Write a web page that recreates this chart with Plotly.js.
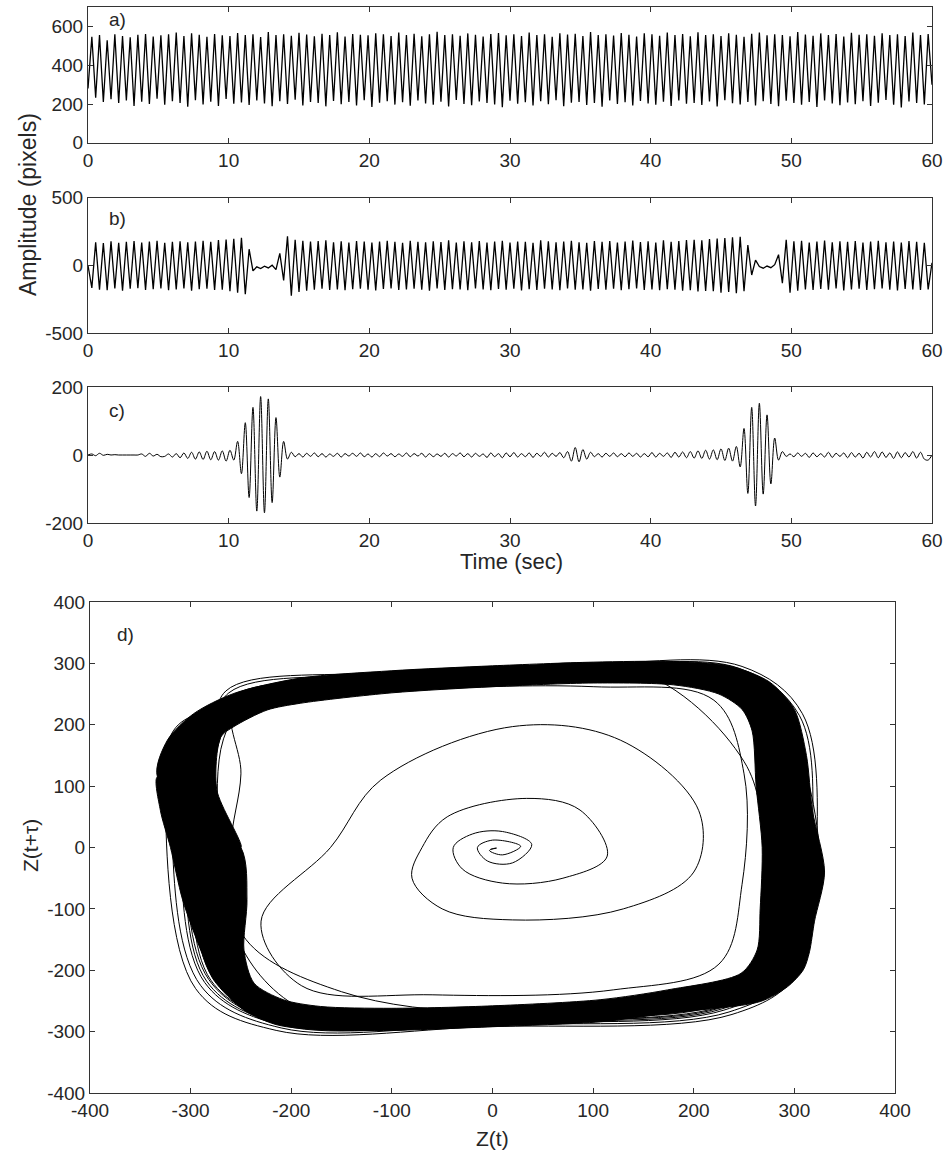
<!DOCTYPE html>
<html>
<head>
<meta charset="utf-8">
<script src="https://cdn.plot.ly/plotly-3.0.1.min.js"></script>
<style>html,body{margin:0;padding:0;background:#fff;}#chart{width:949px;height:1153px;}</style>
</head>
<body>
<div id="chart"></div>
<script>
// ---------- DATA ----------
// Recording duration (s); samples are successive extrema, evenly spaced over it
const recordSeconds = 60;

// a) raw amplitude (pixels), successive extrema
const ampA = [
280,548,232,556,210,530,225,560,205,552,218,545,190,558,212,562,200,549,228,555,
196,560,215,570,205,552,186,566,220,558,198,548,212,562,190,555,226,551,202,567,
208,557,195,561,218,546,203,572,189,556,214,560,200,553,222,568,192,559,210,550,
205,563,188,556,216,571,199,549,211,562,193,558,220,555,185,566,207,560,214,552,
197,569,209,557,191,563,218,550,203,561,196,574,212,556,187,560,221,553,200,565,
194,558,213,549,206,562,198,567,184,555,217,560,202,552,209,570,192,557,215,561,
199,548,220,566,188,559,207,563,211,551,195,572,205,556,186,560,219,554,200,567,
209,558,193,549,216,565,203,561,197,553,212,569,190,557,218,562,201,550,206,571,
195,556,213,560,187,552,220,566,204,558,198,548,210,563,192,569,215,555,200,561,
188,557,217,550,206,572,196,559,211,553,185,565,219,556,203,562,194,549,208,568,
199,558,214,561,190,553,207,566,221,557,196,560,182,551,213,569,205,556,198,562,300
];

// b) detrended amplitude (pixels), successive extrema
const ampB = [
0,-165,172,-178,165,-182,178,-170,168,-185,175,-172,180,-168,170,-180,176,-175,182,-170,
168,-183,174,-176,179,-169,171,-186,177,-174,183,-171,175,-180,188,-178,192,-190,196,-200,
205,-212,120,-40,-10,-22,-5,-18,2,-30,90,-110,215,-222,190,-195,182,-185,176,-178,
180,-172,185,-180,172,-176,178,-183,170,-175,181,-171,176,-179,169,-184,177,-173,182,-170,
174,-181,168,-176,183,-172,175,-178,171,-185,179,-169,173,-180,186,-174,170,-177,178,-182,
172,-170,180,-176,169,-183,176,-173,182,-178,170,-171,177,-184,174,-175,168,-180,185,-172,
179,-177,171,-182,176,-170,183,-179,172,-176,168,-185,180,-173,175,-178,181,-171,170,-183,
177,-175,184,-169,173,-180,178,-176,170,-182,186,-174,175,-178,180,-185,188,-183,190,-192,
185,-188,195,-190,198,-200,202,-195,208,-205,212,-190,150,-70,40,-8,-20,-4,-16,6,
80,-130,190,-200,178,-185,182,-176,170,-181,176,-173,184,-178,171,-170,179,-184,174,-177,
180,-172,169,-181,177,-175,183,-170,172,-179,176,-184,170,-173,181,-177,175,-180,168,-176,20
];

// c) residual amplitude (pixels), successive extrema
const ampC = [
0,3,-2,5,-1,2,0,1,0,0,0,0,0,0,3,-4,5,-3,2,-5,
-4,3,-6,4,-8,6,-10,8,-12,9,-13,11,-14,10,-15,12,-18,14,-15,40,
-55,95,-125,140,-165,172,-170,165,-140,110,-65,40,-12,8,-5,4,-6,5,-4,6,
-5,4,-6,3,-4,5,-6,4,-3,5,-4,6,-5,3,-6,4,-5,6,-3,4,
-5,3,-4,6,-5,4,-3,5,-6,4,-5,3,-4,5,-6,4,-3,6,-5,4,
-6,5,-4,3,-7,6,-5,4,-8,6,-5,7,-6,4,-5,6,-7,5,-4,8,
-6,5,-4,7,-8,10,-18,22,-20,16,-12,8,-5,4,-6,5,-4,6,-5,4,
-5,6,-4,5,-6,4,-5,7,-6,5,-4,6,-7,8,-6,9,-8,10,-9,12,
-10,14,-12,15,-14,18,-16,20,-18,25,-35,78,-113,140,-150,152,-115,118,-85,50,
-15,10,-4,3,-5,6,-4,5,-7,6,-5,4,-6,8,-7,5,-4,6,-8,7,
-6,5,-9,8,-6,10,-8,9,-7,6,-10,9,-8,7,-6,10,-9,8,-12,-15,0
];

// d) phase portrait Z(t) vs Z(t+tau): dense limit-cycle band (outer / inner edges)
const bandOuterX = [-333,-323,-297,-257,-191,-100,0,100,180,235,275,300,312,318,330,320,315,309,293,266,174,107,0,-100,-171,-214,-247,-277,-290,-308,-320,-330];
const bandOuterY = [115,175,218,251,276,288,296,302,303,296,270,225,150,60,-40,-120,-170,-199,-227,-251,-270,-284,-292,-298,-297,-289,-265,-216,-167,-85,0,60];
const bandInnerX = [-274,-270,-257,-224,-191,-100,0,100,180,225,248,258,262,268,266,263,247,174,107,0,-100,-171,-208,-237,-247,-244,-250];
const bandInnerY = [94,180,197,224,235,252,262,268,265,250,225,190,100,0,-100,-167,-205,-232,-248,-258,-262,-259,-248,-221,-167,-85,0];

// d) individual orbits around the cycle
const orbitX = [
-255,-100,100,235,295,305,290,225,0,-205,-282,-305,-292,
-240,-95,105,225,278,288,280,215,5,-195,-268,-288,-278,
-262,-110,95,245,305,318,300,235,-5,-210,-290,-318,-305,
-235,-90,110,218,270,280,272,208,10,-190,-262,-280,-272,
-248,-105,98,232,290,300,288,222,-2,-202,-278,-298,-288,
-258,-98,102,240,300,312,296,230,3,-208,-286,-310,-298,
-244,-102,104,228,282,292,284,218,-4,-198,-272,-292,-282,
-252,-96,96,236,292,325,295,226,6,-204,-280,-300,-290,
-238,-108,108,222,275,285,276,212,-6,-192,-265,-284,-275,
-265,-112,92,248,308,322,303,238,-8,-215,-295,-325,-315,
-246,-100,100,230,286,296,286,220,0,-200,-276,-296,-286,
-256,-104,106,238,294,306,292,228,2,-206,-284,-306,-294,
-242,-94,94,226,280,290,282,216,-2,-196,-270,-290,-280,
-250,-102,100,232,288,298,287,221,1,-201,-277,-297,-287,
-240,-100,140,250,270,270,200,0,-180,-250,-260,-250,
-255,0,200,280,300,290,230,0,-150,-245,-270,-270,
-250
];
const orbitY = [
245,275,290,285,205,10,-195,-262,-280,-288,-215,5,185,
232,262,278,268,195,-5,-185,-250,-270,-275,-205,-10,175,
252,282,296,292,215,20,-200,-268,-288,-294,-225,0,190,
225,256,272,262,185,-10,-180,-244,-264,-268,-198,-5,170,
238,270,285,278,198,-15,-192,-258,-278,-283,-212,8,182,
248,278,292,288,210,5,-198,-265,-285,-290,-220,-5,188,
235,265,280,272,195,12,-188,-254,-274,-279,-208,3,178,
242,272,287,282,202,-40,-195,-260,-282,-286,-216,-3,184,
230,260,276,265,190,2,-182,-247,-266,-271,-200,8,172,
255,285,298,295,218,-8,-205,-272,-292,-298,-230,80,195,
236,266,282,274,198,-8,-190,-256,-276,-281,-210,2,180,
244,274,289,284,206,12,-196,-263,-283,-289,-218,-8,186,
233,263,279,270,193,-2,-186,-252,-272,-277,-206,-2,176,
240,270,284,277,201,3,-191,-257,-277,-282,-211,-3,181,
230,262,290,140,0,-180,-240,-262,-270,-160,0,120,
240,275,280,200,0,-180,-250,-270,-235,-150,0,160,
240
];

// d) decay of the oscillation towards the fixed point (spiral)
const spiralX = [-280,-230,-100,100,220,250,248,225,120,-60,-190,-230,-161,-111,20,127,205,200,130,20,-50,-80,-70,-45,34,87,114,70,10,-30,-39,-20,10,39,20,-5,-15,0,28,10,-3,0,4,-2];
const spiralY = [180,235,255,262,240,120,-60,-190,-232,-240,-225,-120,0,110,197,175,60,-40,-100,-118,-100,-50,0,50,80,61,-14,-50,-58,-35,0,22,26,5,-25,-22,0,12,2,-12,-5,-2,-1,-3];

// tick labels
const timeTicks = [0,10,20,30,40,50,60];
const ticksA = [0,200,400,600];
const ticksB = [-500,0,500];
const ticksC = [-200,0,200];
const ticksD = [-400,-300,-200,-100,0,100,200,300,400];

// ---------- RENDER ----------
const W = 949, H = 1153;
const fx = p => p / W;
const fy = p => 1 - p / H;
const FONT = 'Liberation Sans, Arial, Helvetica, sans-serif';
const INK = '#262626';

function timeAxis(n) {
  const step = recordSeconds / (n - 1);
  return Array.from({length: n}, (_, i) => i * step);
}
const lbl = v => String(v); // hyphen-minus labels like the original

const sharpLine = {color: '#000', width: 1.3};
const smoothLine = {color: '#000', width: 1, shape: 'spline', smoothing: 1};
const traces = [
  {x: timeAxis(ampA.length), y: ampA, xaxis: 'x', yaxis: 'y', mode: 'lines', line: sharpLine, hoverinfo: 'skip'},
  {x: timeAxis(ampB.length), y: ampB, xaxis: 'x2', yaxis: 'y2', mode: 'lines', line: sharpLine, hoverinfo: 'skip'},
  {x: timeAxis(ampC.length), y: ampC, xaxis: 'x3', yaxis: 'y3', mode: 'lines', line: smoothLine, hoverinfo: 'skip'},
  {x: bandOuterX.concat([bandOuterX[0]], bandInnerX.slice().reverse(), [bandInnerX[bandInnerX.length-1], bandOuterX[0]]),
   y: bandOuterY.concat([bandOuterY[0]], bandInnerY.slice().reverse(), [bandInnerY[bandInnerY.length-1], bandOuterY[0]]),
   xaxis: 'x4', yaxis: 'y4', mode: 'lines', fill: 'toself', fillcolor: '#000',
   line: {color: '#000', width: 1, shape: 'spline', smoothing: 0.8}, hoverinfo: 'skip'},
  {x: orbitX, y: orbitY, xaxis: 'x4', yaxis: 'y4', mode: 'lines', line: smoothLine, hoverinfo: 'skip'},
  {x: spiralX, y: spiralY, xaxis: 'x4', yaxis: 'y4', mode: 'lines', line: smoothLine, hoverinfo: 'skip'}
];

function axis(extra) {
  return Object.assign({
    showline: true, linecolor: '#333', linewidth: 1, mirror: 'ticks',
    ticks: 'inside', ticklen: 5, tickwidth: 1, tickcolor: '#333',
    showgrid: false, zeroline: false,
    tickfont: {family: FONT, size: 19, color: INK}
  }, extra);
}
const xDomTop = [fx(88), fx(932)];
const xDomD = [fx(90), fx(895)];

function note(text, px, py, size, angle) {
  return {text: text, x: fx(px), y: fy(py), xref: 'paper', yref: 'paper',
          xanchor: 'center', yanchor: 'middle', textangle: angle || 0,
          showarrow: false, font: {size: size, family: FONT, color: INK}};
}

const layout = {
  width: W, height: H,
  margin: {l: 0, r: 0, t: 0, b: 0},
  paper_bgcolor: '#fff', plot_bgcolor: '#fff',
  showlegend: false,
  font: {family: FONT, color: INK},
  xaxis:  axis({domain: xDomTop, range: [0, 60], anchor: 'y', tickvals: timeTicks, ticktext: timeTicks.map(lbl)}),
  yaxis:  axis({domain: [fy(142.7), fy(7.3)], range: [0, 700], anchor: 'x', tickvals: ticksA, ticktext: ticksA.map(lbl)}),
  xaxis2: axis({domain: xDomTop, range: [0, 60], anchor: 'y2', tickvals: timeTicks, ticktext: timeTicks.map(lbl)}),
  yaxis2: axis({domain: [fy(333.3), fy(197.7)], range: [-500, 500], anchor: 'x2', tickvals: ticksB, ticktext: ticksB.map(lbl)}),
  xaxis3: axis({domain: xDomTop, range: [0, 60], anchor: 'y3', tickvals: timeTicks, ticktext: timeTicks.map(lbl)}),
  yaxis3: axis({domain: [fy(523), fy(387)], range: [-200, 200], anchor: 'x3', tickvals: ticksC, ticktext: ticksC.map(lbl)}),
  xaxis4: axis({domain: xDomD, range: [-400, 400], anchor: 'y4', tickvals: ticksD, ticktext: ticksD.map(lbl)}),
  yaxis4: axis({domain: [fy(1093), fy(602)], range: [-400, 400], anchor: 'x4', tickvals: ticksD, ticktext: ticksD.map(lbl)}),
  annotations: [
    note('Amplitude (pixels)', 28, 205, 23, -90),
    note('Time (sec)', 511, 561, 22),
    note('Z(t)', 492, 1138, 21),
    note('Z(t+τ)', 30, 846, 21, -90),
    note('a)', 117, 20, 19),
    note('b)', 117, 218, 19),
    note('c)', 117, 410, 19),
    note('d)', 126, 634, 19)
  ]
};

Plotly.newPlot('chart', traces, layout, {staticPlot: true, displayModeBar: false});
</script>
</body>
</html>
